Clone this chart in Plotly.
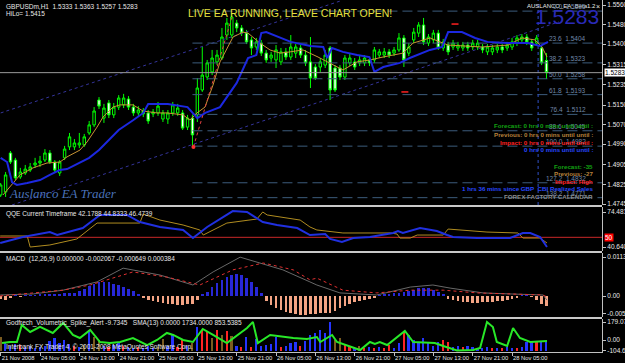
import plotly.graph_objects as go

W, H = 625, 363
MR, MB = 23, 11
PW, PH = W - MR, H - MB


def px(x):
    return x / PW


def py(y):
    return (PH - y) / PH


FONT = "Liberation Sans"

# ---------------- data ----------------
bars = list(range(112))
date_ticks = list(range(0, 105, 8))
date_labels = ["21 Nov 2008", "24 Nov 05:00", "24 Nov 13:00", "24 Nov 21:00", "25 Nov 05:00",
               "25 Nov 13:00", "25 Nov 21:00", "26 Nov 05:00", "26 Nov 13:00", "26 Nov 21:00",
               "27 Nov 05:00", "27 Nov 13:00", "27 Nov 21:00", "28 Nov 05:00"]

opens = [1.4782, 1.4794, 1.4954, 1.4925, 1.4856, 1.4872, 1.4884, 1.4905, 1.4913, 1.4925,
         1.4954, 1.4917, 1.4872, 1.4934, 1.4979, 1.4979, 1.4987, 1.4987, 1.5036, 1.5069,
         1.5171, 1.5097, 1.5159, 1.5110, 1.5142, 1.5151, 1.5175, 1.5142, 1.5118, 1.5126,
         1.5118, 1.5114, 1.5118, 1.5093, 1.5093, 1.5118, 1.5118, 1.5118, 1.5060, 1.5097,
         1.5110, 1.5212, 1.5265, 1.5286, 1.5327, 1.5343, 1.5437, 1.5437, 1.5486, 1.5466,
         1.5445, 1.5417, 1.5388, 1.5404, 1.5363, 1.5343, 1.5335, 1.5327, 1.5368, 1.5347,
         1.5363, 1.5384, 1.5355, 1.5327, 1.5306, 1.5306, 1.5314, 1.5384, 1.5302, 1.5302,
         1.5265, 1.5323, 1.5327, 1.5323, 1.5323, 1.5335, 1.5335, 1.5355, 1.5355, 1.5368,
         1.5363, 1.5376, 1.5425, 1.5363, 1.5417, 1.5445, 1.5478, 1.5404, 1.5417, 1.5445,
         1.5384, 1.5396, 1.5388, 1.5384, 1.5384, 1.5396, 1.5388, 1.5388, 1.5388, 1.5368,
         1.5368, 1.5376, 1.5388, 1.5384, 1.5388, 1.5404, 1.5417, 1.5429, 1.5409, 1.5404,
         1.5384, 1.5333]
highs = [1.4831, 1.4876, 1.4962, 1.4934, 1.4893, 1.4905, 1.4913, 1.4934, 1.4942, 1.4970,
         1.4966, 1.4925, 1.4925, 1.4983, 1.5036, 1.5011, 1.5036, 1.5032, 1.5085, 1.5142,
         1.5183, 1.5155, 1.5171, 1.5159, 1.5191, 1.5196, 1.5187, 1.5155, 1.5146, 1.5138,
         1.5130, 1.5134, 1.5163, 1.5130, 1.5130, 1.5163, 1.5155, 1.5130, 1.5110, 1.5110,
         1.5261, 1.5388, 1.5335, 1.5376, 1.5376, 1.5466, 1.5507, 1.5527, 1.5499, 1.5478,
         1.5458, 1.5429, 1.5425, 1.5417, 1.5376, 1.5368, 1.5396, 1.5384, 1.5384, 1.5437,
         1.5400, 1.5396, 1.5376, 1.5429, 1.5318, 1.5343, 1.5376, 1.5392, 1.5314, 1.5314,
         1.5355, 1.5363, 1.5343, 1.5351, 1.5355, 1.5347, 1.5388, 1.5380, 1.5384, 1.5380,
         1.5388, 1.5445, 1.5437, 1.5404, 1.5466, 1.5490, 1.5507, 1.5441, 1.5458, 1.5458,
         1.5421, 1.5409, 1.5417, 1.5409, 1.5409, 1.5409, 1.5417, 1.5417, 1.5400, 1.5400,
         1.5396, 1.5400, 1.5400, 1.5409, 1.5425, 1.5437, 1.5441, 1.5441, 1.5421, 1.5437,
         1.5396, 1.5363]
lows = [1.4774, 1.4774, 1.4909, 1.4843, 1.4848, 1.4864, 1.4876, 1.4893, 1.4897, 1.4917,
        1.4909, 1.4872, 1.4860, 1.4925, 1.4966, 1.4966, 1.4974, 1.4979, 1.5028, 1.5060,
        1.5134, 1.5077, 1.5097, 1.5097, 1.5130, 1.5138, 1.5130, 1.5106, 1.5106, 1.5101,
        1.5073, 1.5101, 1.5106, 1.5081, 1.5073, 1.5106, 1.5106, 1.5048, 1.5048, 1.4979,
        1.5081, 1.5204, 1.5253, 1.5273, 1.5314, 1.5335, 1.5417, 1.5425, 1.5449, 1.5433,
        1.5400, 1.5355, 1.5376, 1.5351, 1.5323, 1.5327, 1.5302, 1.5314, 1.5335, 1.5335,
        1.5343, 1.5343, 1.5310, 1.5220, 1.5253, 1.5286, 1.5302, 1.5171, 1.5204, 1.5253,
        1.5253, 1.5310, 1.5294, 1.5310, 1.5310, 1.5310, 1.5323, 1.5343, 1.5343, 1.5343,
        1.5351, 1.5368, 1.5306, 1.5351, 1.5404, 1.5429, 1.5396, 1.5392, 1.5404, 1.5376,
        1.5372, 1.5355, 1.5376, 1.5372, 1.5372, 1.5372, 1.5376, 1.5376, 1.5363, 1.5355,
        1.5355, 1.5363, 1.5363, 1.5372, 1.5376, 1.5392, 1.5404, 1.5396, 1.5372, 1.5392,
        1.5314, 1.5257]
closes = [1.4823, 1.4864, 1.4917, 1.4852, 1.4876, 1.4888, 1.4897, 1.4913, 1.4921, 1.4954,
          1.4917, 1.4884, 1.4917, 1.4970, 1.5020, 1.4995, 1.4995, 1.5020, 1.5069, 1.5126,
          1.5146, 1.5138, 1.5110, 1.5142, 1.5179, 1.5179, 1.5142, 1.5118, 1.5130, 1.5114,
          1.5085, 1.5122, 1.5146, 1.5118, 1.5118, 1.5151, 1.5138, 1.5056, 1.5097, 1.5028,
          1.5220, 1.5273, 1.5323, 1.5343, 1.5355, 1.5429, 1.5486, 1.5511, 1.5466, 1.5445,
          1.5409, 1.5384, 1.5409, 1.5363, 1.5335, 1.5355, 1.5376, 1.5368, 1.5347, 1.5388,
          1.5388, 1.5355, 1.5323, 1.5261, 1.5261, 1.5327, 1.5355, 1.5212, 1.5212, 1.5265,
          1.5343, 1.5343, 1.5306, 1.5335, 1.5343, 1.5323, 1.5376, 1.5368, 1.5368, 1.5355,
          1.5376, 1.5425, 1.5335, 1.5388, 1.5449, 1.5478, 1.5409, 1.5429, 1.5445, 1.5384,
          1.5409, 1.5368, 1.5404, 1.5396, 1.5396, 1.5384, 1.5404, 1.5404, 1.5376, 1.5388,
          1.5384, 1.5388, 1.5376, 1.5396, 1.5409, 1.5425, 1.5429, 1.5409, 1.5384, 1.5425,
          1.5323, 1.5283]

slow_ma_x = [0, 1.3, 2.3, 3.3, 5.4, 8, 10, 12, 13.5, 16, 18, 20, 24, 27, 29, 30, 34, 38, 39, 40,
             41.6, 44.6, 48, 50.3, 52, 53, 54, 57, 59, 63, 65.6, 66.4, 67.4, 69.6, 72.5, 75, 76,
             77.8, 81.2, 83.2, 87.3, 89.8, 91, 93.8, 96.5, 99, 103, 107.2, 109.7, 111.3]
slow_ma_y = [1.4934, 1.4917, 1.4835, 1.4823, 1.4831, 1.4843, 1.4864, 1.4884, 1.4888, 1.4913,
             1.4934, 1.4966, 1.5048, 1.5089, 1.5118, 1.5155, 1.5155, 1.5142, 1.5118, 1.5097,
             1.5118, 1.5142, 1.5241, 1.5343, 1.5355, 1.5445, 1.5449, 1.5425, 1.5409, 1.5392,
             1.5388, 1.5343, 1.5384, 1.5368, 1.5355, 1.5347, 1.5286, 1.5306, 1.5323, 1.5343,
             1.5376, 1.5388, 1.5449, 1.5449, 1.5425, 1.5409, 1.5404, 1.5404, 1.5392, 1.5409]

fast_ma_x = [0.47, 3.93, 6.58, 9.42, 12.07, 13.49, 16.13, 17.56, 19.59, 20.81, 22.85, 24.27,
             26.91, 28.95, 31.79, 33.83, 37.08, 38.5, 39.93, 41.55, 43.18, 44.61, 47.25, 49.28,
             50.3, 52.74, 54.78, 56.81, 58.84, 61.49, 64.54, 66.98, 69.62, 72.47, 75.11, 77.76,
             81.82, 83.86, 87.32, 90.97, 97.89, 103.18, 106.03, 108.67, 110.1, 111.11]
fast_ma_y = [1.4782, 1.4864, 1.4893, 1.4913, 1.4917, 1.4938, 1.4966, 1.4999, 1.5060, 1.5101,
             1.5142, 1.5151, 1.5151, 1.5126, 1.5118, 1.5118, 1.5110, 1.5089, 1.5118, 1.5142,
             1.5232, 1.5327, 1.5429, 1.5449, 1.5445, 1.5404, 1.5376, 1.5363, 1.5368, 1.5376,
             1.5347, 1.5323, 1.5294, 1.5327, 1.5335, 1.5347, 1.5363, 1.5404, 1.5425, 1.5396,
             1.5388, 1.5396, 1.5425, 1.5417, 1.5388, 1.5347]

sar_x = [39.2, 43.2, 47.1]
sar_y = [1.4979, 1.5253, 1.5515]

channel_up_x = [0, 69]
channel_up_y = [1.5118, 1.5576]
channel_dn_x = [2.3, 113.5]
channel_dn_y = [1.4741, 1.5491]

fib_start = 39
fib_end = 122.3
fib_pct = ["0.0", "23.6", "38.2", "50.0", "61.8", "76.4", "88.6", "100.0", "127.2", "138.2"]
fib_price = [1.5535, 1.5404, 1.5323, 1.5258, 1.5193, 1.5112, 1.5045, 1.4982, 1.4832, 1.4771]

last_price = 1.5283
news_bar = 109.3
main_ticks = [1.5560, 1.5480, 1.5400, 1.5315, 1.5235, 1.5150, 1.5070, 1.4990, 1.4905, 1.4825, 1.4745]

qqe_blue_x = [-0.1, 4.5, 10, 11.5, 16.7, 20.2, 25.7, 28.3, 32.4, 37.1, 39.1, 42, 47.2, 50.1, 53.3,
              56.2, 60.3, 62.9, 66, 67, 69.4, 71.7, 75.1, 79.8, 80.8, 81.8, 85.3, 88.7, 90.8, 92,
              96.9, 103.6, 106.2, 107.7, 109.7, 111.1]
qqe_blue_y = [44.5, 50.3, 55.1, 52.2, 59.0, 71.6, 71.6, 64.8, 60.0, 57.1, 49.3, 60.0, 75.4, 74.5,
              64.8, 61.9, 59.0, 52.2, 53.2, 48.4, 45.5, 49.3, 50.3, 54.2, 56.1, 54.2, 59.0, 56.1,
              52.2, 50.3, 49.3, 49.3, 54.2, 54.2, 50.3, 40.6]
qqe_gold_x = [-0.1, 5.4, 6, 10, 15.5, 19.6, 28.3, 29, 32.4, 37.1, 40.5, 41.2, 46, 52.1, 53.3, 54.2,
              60.9, 62.9, 64.3, 69.6, 79.2, 80.6, 81.2, 83.3, 84.7, 90, 91, 98.9, 105.2, 106.2,
              109.7, 111.1]
qqe_gold_y = [51.3, 51.3, 40.6, 42.6, 48.4, 63.8, 63.8, 72.5, 66.7, 61.9, 57.1, 52.2, 63.8, 67.7,
              74.5, 71.6, 66.7, 60.0, 57.1, 54.2, 54.2, 53.2, 49.3, 49.3, 52.2, 52.2, 58.0, 55.1,
              54.2, 49.3, 49.3, 44.5]
qqe_level = 50

macd_hist = [-0.0010, -0.0012, -0.0006, 0.0001, -0.0001, 0.0001, 0.0001, 0.0002, 0.0003, 0.0004,
             0.0005, 0.0006, 0.0007, 0.0008, 0.0009, 0.0010, 0.0015, 0.0020, 0.0028, 0.0035,
             0.0040, 0.0042, 0.0040, 0.0036, 0.0032, 0.0027, 0.0020, 0.0014, 0.0006, -0.0003,
             -0.0012, -0.0015, -0.0018, -0.0020, -0.0022, -0.0024, -0.0026, -0.0025, -0.0024, -0.0022,
             -0.0012, 0.0005, 0.0012, 0.0025, 0.0038, 0.0048, 0.0056, 0.0062, 0.0064, 0.0060,
             0.0052, 0.0040, 0.0025, 0.0008, -0.0015, -0.0026, -0.0034, -0.0040, -0.0046, -0.0050,
             -0.0053, -0.0055, -0.0055, -0.0052, -0.0051, -0.0050, -0.0050, -0.0048, -0.0043, -0.0036,
             -0.0030, -0.0022, -0.0018, -0.0014, -0.0011, -0.0008, -0.0004, 0.0002, 0.0004, 0.0006,
             0.0008, 0.0010, 0.0012, 0.0015, 0.0018, 0.0022, 0.0023, 0.0022, 0.0018, 0.0012,
             0.0005, -0.0008, -0.0012, -0.0015, -0.0017, -0.0018, -0.0019, -0.0019, -0.0018, -0.0017,
             -0.0016, -0.0015, -0.0014, -0.0012, -0.0009, -0.0004, 0.0002, 0.0001, -0.0002, -0.0012,
             -0.0022, -0.0030]
macd_main_x = [-0.1, 6.6, 12.7, 19.6, 24.9, 32.4, 39.1, 43.2, 48.7, 57.4, 62.9, 64.3, 69, 76.5,
               83.3, 87.9, 91.4, 98.1, 103.6, 110.3, 111.1]
macd_main_y = [0.0003, 0.0006, 0.0017, 0.0041, 0.0081, 0.0061, 0.0032, 0.0070, 0.0113, 0.0076,
               0.0041, 0.0032, 0.0009, 0.0003, 0.0026, 0.0032, 0.0023, 0.0009, 0.0006, 0.0003, -0.0012]
macd_sig_x = [-0.1, 12.7, 18.2, 26.9, 33.8, 40.5, 47.2, 53.4, 59.5, 62.9, 64.3, 69.6, 76.5, 83.3,
              90, 96.9, 110.3, 111.1]
macd_sig_y = [0.0, 0.0017, 0.0032, 0.0070, 0.0055, 0.0032, 0.0076, 0.0096, 0.0076, 0.0047, 0.0052,
              0.0017, 0.0009, 0.0017, 0.0017, 0.0009, 0.0003, -0.0003]

vol_top = [25, -20, -60, -40, -50, -70, -60, -80, -70, -60,
           -10, 20, -30, 0, -40, -60, -70, -50, 100, 30,
           0, -60, -70, -50, -20, -60, -70, -80, -70, -80,
           -60, -80, -70, 10, -60, 50, -70, 0, -60, -30,
           130, 100, 80, 20, 100, 50, 90, 40, -60, -70,
           30, -70, 10, -60, -50, -40, 30, -70, -60, -30,
           -20, -60, -10, 50, 70, 100, 70, 180, 0, 20,
           -50, -70, -80, -60, -80, -70, -80, -70, -80, -50,
           -80, -30, 80, 50, 0, -30, 20, -30, -60, -15,
           0, -15, -70, -60, -70, -60, -70, -80, -80, -70,
           -80, -80, -80, -70, -80, -80, -70, -15, -10, -15,
           -10, -10]
vol_kind = ["o", "b", "b", "b", "r", "b", "b", "b", "b", "b",
            "b", "b", "b", "b", "b", "r", "b", "o", "b", "o",
            "o", "b", "r", "b", "b", "r", "b", "b", "r", "b",
            "b", "b", "o", "o", "b", "b", "r", "r", "b", "o",
            "b", "r", "r", "o", "r", "o", "r", "o", "b", "r",
            "b", "r", "b", "b", "b", "b", "b", "r", "b", "b",
            "b", "r", "b", "b", "b", "b", "b", "b", "o", "o",
            "r", "r", "b", "o", "r", "b", "r", "b", "r", "r",
            "b", "b", "r", "b", "b", "b", "b", "b", "b", "b",
            "r", "r", "b", "b", "r", "b", "b", "b", "b", "b",
            "r", "b", "r", "b", "b", "r", "b", "b", "b", "r",
            "b", "b"]
spike_x = [0.27, 1.9, 3.3, 4.3, 6, 8, 10.6, 12.7, 14.7, 16.1, 18.2, 20.2, 22.2, 24.3, 26.9, 29.8,
           31.8, 33.8, 35.1, 37.1, 39.1, 41.1, 43.2, 46, 50.1, 51.3, 52.3, 54.8, 59.5, 62.3, 64.3,
           65, 67.4, 68.4, 73.1, 75.1, 76.1, 77.1, 78.6, 82.2, 83.9, 86.7, 88.3, 90, 92.8, 96.1,
           97.5, 98.9, 100.1, 100.9, 103, 104.2, 105.6, 107.7, 111.1]
spike_y = [-30, -20, -20, 150, 80, 130, 70, 170, 50, 20, 100, -20, -30, -20, 20, -50,
           0, 70, 50, 0, -20, 110, 50, -30, 120, 180, -30, 50, 20, 10, 30,
           -20, 50, -20, -100, -20, -40, -20, -50, 90, -20, -30, -30, -60, -105, -100,
           -80, 179, 130, -20, -60, 120, 20, -20, -10]

# ---------------- figure ----------------
fig = go.Figure()

# main panel
fig.add_trace(go.Scatter(x=channel_up_x, y=channel_up_y, mode="lines",
                         line=dict(color="#34349a", width=1, dash="dot"), yaxis="y"))
fig.add_trace(go.Scatter(x=channel_dn_x, y=channel_dn_y, mode="lines",
                         line=dict(color="#34349a", width=1, dash="dot"), yaxis="y"))
for fp in fib_price:
    fig.add_trace(go.Scatter(x=[fib_start, fib_end], y=[fp, fp], mode="lines",
                             line=dict(color="#3c5c7c", width=1, dash="10px,5px"), yaxis="y"))
fig.add_trace(go.Scatter(x=[news_bar, news_bar], y=[1.4741, 1.5580], mode="lines",
                         line=dict(color="#3050c8", width=1, dash="dot"), yaxis="y"))
fig.add_trace(go.Candlestick(x=bars, open=opens, high=highs, low=lows, close=closes,
                             increasing=dict(line=dict(color="#00ff00", width=1), fillcolor="#000000"),
                             decreasing=dict(line=dict(color="#00ff00", width=1), fillcolor="#ffffff"),
                             whiskerwidth=0, yaxis="y"))
fig.add_trace(go.Scatter(x=fast_ma_x, y=fast_ma_y, mode="lines",
                         line=dict(color="#c89434", width=1), yaxis="y"))
fig.add_trace(go.Scatter(x=slow_ma_x, y=slow_ma_y, mode="lines",
                         line=dict(color="#1c28e0", width=2), yaxis="y"))
fig.add_trace(go.Scatter(x=sar_x, y=sar_y, mode="lines",
                         line=dict(color="#e04040", width=1, dash="dot"), yaxis="y"))
fig.add_trace(go.Scatter(x=[39.2], y=[1.4979], mode="markers",
                         marker=dict(color="#ff3030", size=4), yaxis="y"))
fig.add_trace(go.Scatter(x=[82.2, 92.4], y=[1.5204, 1.5482], mode="markers",
                         marker=dict(symbol="line-ew", size=5, line=dict(color="#ff2020", width=1.5)),
                         yaxis="y"))

# QQE panel
fig.add_trace(go.Scatter(x=[-1, 123], y=[qqe_level, qqe_level], mode="lines",
                         line=dict(color="#c82828", width=1), yaxis="y2"))
fig.add_trace(go.Scatter(x=qqe_gold_x, y=qqe_gold_y, mode="lines",
                         line=dict(color="#b08c20", width=1), yaxis="y2"))
fig.add_trace(go.Scatter(x=qqe_blue_x, y=qqe_blue_y, mode="lines",
                         line=dict(color="#2030e0", width=2), yaxis="y2"))

# MACD panel
fig.add_trace(go.Bar(x=bars, y=macd_hist, width=0.55,
                     marker=dict(color=["#2828d8" if v >= 0 else "#f4a484" for v in macd_hist],
                                 line=dict(width=0)), yaxis="y3"))
fig.add_trace(go.Scatter(x=macd_main_x, y=macd_main_y, mode="lines",
                         line=dict(color="#686868", width=1), yaxis="y3"))
fig.add_trace(go.Scatter(x=macd_sig_x, y=macd_sig_y, mode="lines",
                         line=dict(color="#e03030", width=1, dash="dot"), yaxis="y3"))

# Volume spike panel
vol_colors = {"b": "#2434ff", "r": "#ff2424", "o": "#7c5c20"}
vol_base = -110
fig.add_trace(go.Bar(x=bars, y=[v - vol_base for v in vol_top], base=vol_base, width=0.35,
                     marker=dict(color=[vol_colors[k] for k in vol_kind], line=dict(width=0)),
                     yaxis="y4"))
fig.add_trace(go.Scatter(x=spike_x, y=spike_y, mode="lines",
                         line=dict(color="#28e828", width=2), yaxis="y4"))

# ---------------- layout ----------------
tickfont = dict(family=FONT, size=6.5, color="#e8e8e8")
axis_common = dict(side="right", anchor="x", showgrid=False, zeroline=False, showline=True,
                   linecolor="#c0c0c0", linewidth=1, ticks="outside", ticklen=3,
                   tickcolor="#c0c0c0", tickfont=tickfont, fixedrange=True)

fig.update_layout(
    width=W, height=H,
    margin=dict(l=0, r=MR, t=0, b=MB, autoexpand=False),
    paper_bgcolor="#000000", plot_bgcolor="#000000",
    showlegend=False, bargap=0,
    xaxis=dict(domain=[0, 1], range=[-0.136, 122.29], anchor="y4", showgrid=False,
               zeroline=False, showline=True, linecolor="#c0c0c0", linewidth=1,
               tickvals=date_ticks, ticktext=date_labels, ticklabelposition="outside right",
               tickangle=0, automargin=False, ticklabelstandoff=0,
               ticks="outside", ticklen=3, tickcolor="#c0c0c0",
               tickfont=dict(family=FONT, size=5.8, color="#e8e8e8"),
               rangeslider=dict(visible=False), fixedrange=True),
    yaxis=dict(domain=[py(205), 1], range=[1.47410, 1.55805], tickvals=main_ticks,
               ticktext=[f"{t:.4f}" for t in main_ticks], **axis_common),
    yaxis2=dict(domain=[py(251), py(207)], range=[36.77, 79.32],
                tickvals=[74.4817, 40.6406], ticktext=["74.4817", "40.6406"], **axis_common),
    yaxis3=dict(domain=[py(317), py(253)], range=[-0.00611, 0.01251],
                tickvals=[0.01134, 0, -0.00501], ticktext=["0.01134", "0.00", "-0.00501"],
                **axis_common),
    yaxis4=dict(domain=[0, py(319)], range=[-119.4, 209],
                tickvals=[179.0734, 0, -104.659], ticktext=["179.0734", "0.00", "-104.659"],
                **axis_common),
)

shapes = []
for ysep in [206, 252, 318]:
    shapes.append(dict(type="line", xref="paper", yref="paper", x0=0, x1=1,
                       y0=py(ysep), y1=py(ysep), line=dict(color="#c8c8c8", width=2)))
shapes.append(dict(type="line", xref="paper", yref="y", x0=0, x1=1, y0=last_price, y1=last_price,
                   line=dict(color="#9a9a9a", width=1)))
fig.update_layout(shapes=shapes)

ann = []


def text(x, y, s, color="#e8e8e8", size=6.5, anchor="left", family=FONT, **kw):
    ann.append(dict(xref="paper", yref="paper", x=px(x), y=py(y), text=s, showarrow=False,
                    xanchor=anchor, yanchor="middle",
                    font=dict(family=family, size=size, color=color), **kw))


text(4, 6, "GBPUSDm,H1  1.5333 1.5363 1.5257 1.5283")
text(4, 13, "HiLo= 1.5415")
text(186, 12.5, "LIVE EA RUNNING, LEAVE CHART OPEN!", color="#e4e040", size=10.5)
text(525, 6, "AUSLANCO_EA_Beta1.2", size=6)
text(598, 6, "×", size=7, anchor="center")

for pct, fp in zip(fib_pct, fib_price):
    ann.append(dict(xref="paper", yref="y", x=px(588), y=fp, text=f"{pct}  {fp:.4f}",
                    showarrow=False, xanchor="right", yanchor="bottom", yshift=-1,
                    font=dict(family=FONT, size=6.5, color="#7088a8")))

text(601, 16.5, f"{last_price:.4f}", color="#2a2ab8", size=21, anchor="right")

news = [(126, "Forecast: 0 hrs 0 mins until until :", "#12a012"),
        (134, "Previous: 0 hrs 0 mins until until :", "#b8823c"),
        (142, "Impact: 0 hrs 0 mins until until :", "#ff2020"),
        (149, "0 hrs 0 mins until until :", "#2848ff"),
        (166, "Forecast: -35", "#12a012"),
        (173, "Previous: -27", "#b8823c"),
        (181, "Impact: High", "#ff2020"),
        (188, "1 hrs 36 mins since GBP  CBI Realized Sales", "#2848ff"),
        (196, "FOREX FACTORY CALENDAR", "#8c8c8c")]
for yy, s, c in news:
    text(595, yy, f"<b>{s}</b>", color=c, size=6.2, anchor="right")

text(7, 193, "<i>Auslanco EA Trader</i>", color="#4a72b8", size=13, family="Liberation Serif")

text(4, 214, "QQE Current Timeframe 42.1788 44.8333 46.4739")
text(4, 259, "MACD  (12,26,9) 0.000000 -0.002067 -0.000649 0.000384")
text(4, 323, "Godfrech_Volumetric_Spike_Alert -9.7345   SMA(13) 0.0000 1734.0000 853.5385")
text(4, 347, "Interbank FX Trader 4, © 2001-2008 MetaQuotes Software Corp.")

# price tag boxes on the right axis
ann.append(dict(xref="paper", yref="y", x=1, xshift=2, y=last_price, text="1.5283", showarrow=False,
                xanchor="left", yanchor="middle", bgcolor="#ffffff", borderpad=0,
                font=dict(family=FONT, size=6.5, color="#000000")))
ann.append(dict(xref="paper", yref="y2", x=1, xshift=2, y=qqe_level, text="50", showarrow=False,
                xanchor="left", yanchor="middle", bgcolor="#ff0000", borderpad=0,
                font=dict(family=FONT, size=6.5, color="#ffffff")))

fig.update_layout(annotations=ann)
fig.write_html("out.html")
